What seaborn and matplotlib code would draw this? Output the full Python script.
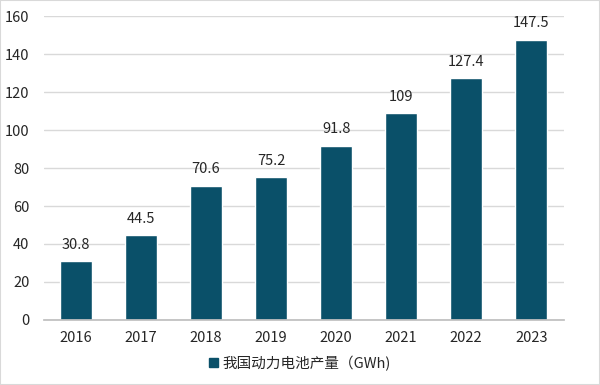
import matplotlib

matplotlib.use("Agg")
import matplotlib.pyplot as plt
import pandas as pd
import seaborn as sns
from matplotlib.patches import Rectangle

years = ["2016", "2017", "2018", "2019", "2020", "2021", "2022", "2023"]
output_gwh = [30.8, 44.5, 70.6, 75.2, 91.8, 109, 127.4, 147.5]
value_labels = ["30.8", "44.5", "70.6", "75.2", "91.8", "109", "127.4", "147.5"]
series_name = "我国动力电池产量（GWh)"

df = pd.DataFrame({"year": years, "value": output_gwh})

sns.set_theme(style="white")
plt.rcParams["font.family"] = ["Noto Sans CJK SC", "DejaVu Sans"]

bar_color = "#0A5069"
text_color = "#262626"

fig = plt.figure(figsize=(6, 3.85), dpi=100)
ax = fig.add_axes([0.0725, 0.169, 0.867, 0.789])

sns.barplot(data=df, x="year", y="value", color=bar_color, width=0.49,
            saturation=1, ax=ax)

ax.set_ylim(0, 160)
ax.set_yticks(range(0, 161, 20))
ax.set_xlim(-0.5, len(years) - 0.5)
ax.yaxis.grid(True, color="#D9D9D9", linewidth=1)
ax.set_axisbelow(True)
for side in ["top", "right", "left"]:
    ax.spines[side].set_visible(False)
ax.spines["bottom"].set_color("#BFBFBF")
ax.set_xlabel("")
ax.set_ylabel("")
ax.tick_params(axis="both", length=0, labelsize=10.5, colors=text_color)
ax.tick_params(axis="x", pad=8)
ax.tick_params(axis="y", pad=10)

for i, (v, lab) in enumerate(zip(output_gwh, value_labels)):
    ax.text(i, v + 5, lab, ha="center", va="bottom", fontsize=10.5, color=text_color)

handle = Rectangle((0, 0), 1, 1, color=bar_color)
fig.legend([handle], [series_name], loc="center", bbox_to_anchor=(0.5, 0.057),
           frameon=False, fontsize=10.5, handlelength=0.6, handleheight=0.6,
           handletextpad=0.3, labelcolor=text_color)

fig.patches.append(Rectangle((0, 0), 1, 1, transform=fig.transFigure, fill=False,
                             edgecolor="#D9D9D9", linewidth=1.5))

fig.savefig("out.png", dpi=100)
